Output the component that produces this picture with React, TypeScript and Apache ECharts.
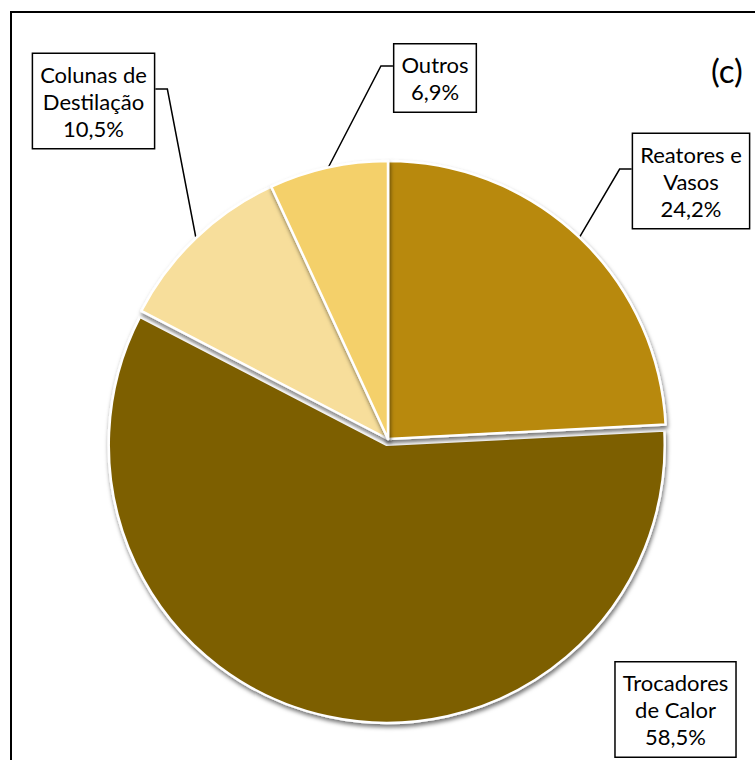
import React, { useEffect, useRef } from "react";
import * as echarts from "echarts";

// ---- data ----
const categories = ["Reatores e\nVasos", "Trocadores\nde Calor", "Colunas de\nDestilação", "Outros"];
const values = [24.2, 58.5, 10.5, 6.9];
const sliceColors = ["#B8890B", "#7D5F06", "#F7DE9B", "#F4D06A"];
const explodedIndex = 1; // "Trocadores de Calor" is pulled slightly out
const panelTag = "(c)";

// ---- layout (label box centres and which side the leader line attaches to) ----
const labelCenters: number[][] = [
  [691, 181],
  [675.5, 709.5],
  [93.5, 101],
  [435, 78],
];
const labelSide: (string | null)[] = ["left", null, "right", "left"];

const FONT = "Lato, 'Noto Sans', sans-serif";
const PIE_CX = 388;
const PIE_CY = 439;
const PIE_R = 278;
const EXPLODE = 6;

function fmt(v: number) {
  return v.toFixed(1).replace(".", ",") + "%";
}

const HIDDEN = "rgba(0,0,0,0)";

export default function App() {
  const ref = useRef<HTMLDivElement>(null);
  useEffect(() => {
    if (!ref.current) return;
    const chart = echarts.init(ref.current, undefined, { renderer: "svg" });

    const total = values.reduce((a, b) => a + b, 0);
    let before = 0;
    for (let i = 0; i < explodedIndex; i++) before += values[i];
    // mid angle of the exploded slice (clockwise from 12 o'clock)
    const midDeg = ((before + values[explodedIndex] / 2) / total) * 360;
    const midRad = (midDeg * Math.PI) / 180;
    const exCx = PIE_CX + EXPLODE * Math.sin(midRad);
    const exCy = PIE_CY - EXPLODE * Math.cos(midRad);

    const makeData = (visible: (i: number) => boolean) =>
      categories.map((name, i) => {
        const vis = visible(i);
        return {
          name,
          value: values[i],
          itemStyle: vis
            ? { color: sliceColors[i] }
            : { color: HIDDEN, borderColor: HIDDEN, borderWidth: 0, shadowColor: HIDDEN, shadowBlur: 0 },
          label: { show: vis },
          labelLine: { show: vis && labelSide[i] !== null },
        };
      });

    const labelLayout = (params: any) => {
      const i = params.dataIndex;
      const [cx, cy] = labelCenters[i];
      const w = params.labelRect.width;
      const res: any = { x: cx, y: cy, align: "center", verticalAlign: "middle" };
      const side = labelSide[i];
      if (side && params.labelLinePoints) {
        const start = params.labelLinePoints[0];
        const ey = cy - 12;
        const ex = side === "left" ? cx - w / 2 : cx + w / 2;
        const elbowX = side === "left" ? ex - 12 : ex + 12;
        res.labelLinePoints = [start, [elbowX, ey], [ex, ey]];
      }
      return res;
    };

    const common = {
      type: "pie",
      radius: PIE_R,
      startAngle: 90,
      clockwise: true,
      avoidLabelOverlap: false,
      silent: true,
      emphasis: { disabled: true },
      itemStyle: {
        borderColor: "#fff",
        borderWidth: 2.5,
        shadowBlur: 4,
        shadowOffsetX: 1,
        shadowOffsetY: 3,
        shadowColor: "rgba(0,0,0,0.55)",
      },
      label: {
        position: "outside",
        formatter: (p: any) => `${p.name}\n${fmt(p.value)}`,
        fontFamily: FONT,
        fontSize: 22,
        lineHeight: 27,
        color: "#000",
        align: "center",
        backgroundColor: "#fff",
        borderColor: "#000",
        borderWidth: 1.5,
        padding: [7, 7, 6, 7],
      },
      labelLine: {
        length: 20,
        length2: 20,
        lineStyle: { color: "#000", width: 1.5 },
      },
      labelLayout,
    };

    chart.setOption({
      animation: false,
      backgroundColor: "#fff",
      title: {
        text: panelTag,
        left: 706,
        top: 48,
        textStyle: { fontFamily: FONT, fontSize: 33, fontWeight: "normal", color: "#000" },
      },
      graphic: [
        {
          type: "rect",
          shape: { x: 11, y: 12, width: 800, height: 800 },
          style: { fill: "none", stroke: "#000", lineWidth: 2 },
          silent: true,
        },
      ],
      series: [
        {
          ...common,
          center: [exCx, exCy],
          data: makeData((i) => i === explodedIndex),
        },
        {
          ...common,
          center: [PIE_CX, PIE_CY],
          data: makeData((i) => i !== explodedIndex),
        },
      ],
    });
    return () => chart.dispose();
  }, []);
  return (
    <div
      ref={ref}
      style={{ position: "absolute", left: 0, top: 0, width: 755, height: 760 }}
    />
  );
}
